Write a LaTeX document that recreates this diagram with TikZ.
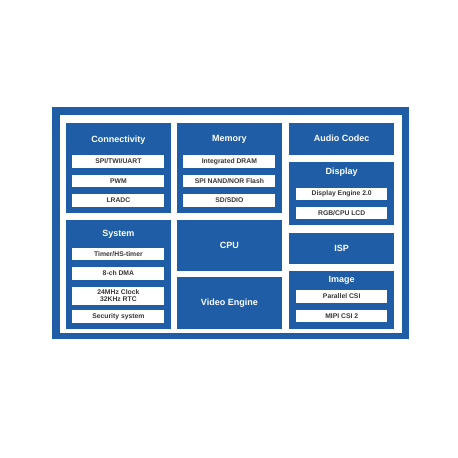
\documentclass[tikz,border=0pt]{standalone}
\usepackage{fontspec}
\setmainfont{Liberation Sans}
\usetikzlibrary{positioning}
\definecolor{chipblue}{RGB}{31,94,166}
\definecolor{itemtext}{RGB}{55,55,55}

\begin{document}
\begin{tikzpicture}[
    x=1pt, y=-1pt,
    % Define node styles
    block/.style={rectangle, fill=chipblue, anchor=north west, minimum width=105pt,
                  inner sep=0pt, text=white, font=\bfseries\fontsize{9}{10.5}\selectfont},
    title/.style={text=white, inner sep=0pt, font=\bfseries\fontsize{9}{10.5}\selectfont},
    item/.style={rectangle, fill=white, minimum width=92pt, minimum height=12.7pt,
                 inner sep=0pt, align=center, text=itemtext,
                 font=\bfseries\fontsize{6.8}{7.6}\selectfont},
    node distance=6.4pt
]
    \useasboundingbox (0,0) rectangle (458,458);

    % Outer frame
    \fill[chipblue] (52,107) rectangle (409,339);
    \fill[white] (60,115) rectangle (401.5,333);

    % Left column
    \node[block, minimum height=89.6pt] (conn) at (65.7,122.7) {};
    \node[title] (conntitle) at ([yshift=-17.3pt]conn.north) {Connectivity};
    \node[item, below=32.3pt of conn.north] (spi) {SPI/TWI/UART};
    \node[item, below=of spi] (pwm) {PWM};
    \node[item, below=of pwm] (lradc) {LRADC};

    \node[block, minimum height=109pt] (sys) at (65.7,219.3) {};
    \node[title] (systitle) at ([yshift=-14.7pt]sys.north) {System};
    \node[item, below=28pt of sys.north] (timer) {Timer/HS-timer};
    \node[item, below=of timer] (dma) {8-ch DMA};
    \node[item, below=of dma, minimum height=18pt] (clock) {24MHz Clock\\32KHz RTC};
    \node[item, below=5pt of clock] (security) {Security system};

    % Middle column
    \node[block, minimum height=89.6pt] (mem) at (176.7,122.7) {};
    \node[title] (memtitle) at ([yshift=-16.5pt]mem.north) {Memory};
    \node[item, below=32.3pt of mem.north] (dram) {Integrated DRAM};
    \node[item, below=of dram] (flash) {SPI NAND/NOR Flash};
    \node[item, below=of flash] (sdio) {SD/SDIO};

    \node[block, minimum height=51.4pt] (cpu) at (176.7,219.3) {CPU};
    \node[block, minimum height=51.6pt] (video) at (176.7,276.7) {Video Engine};

    % Right column
    \node[block, minimum height=31.6pt] (audio) at (289,122.7) {Audio Codec};

    \node[block, minimum height=63.3pt] (disp) at (289,161.7) {};
    \node[title] (disptitle) at ([yshift=-10pt]disp.north) {Display};
    \node[item, minimum width=91pt, below=25.6pt of disp.north] (engine) {Display Engine 2.0};
    \node[item, minimum width=91pt, below=6pt of engine] (lcd) {RGB/CPU LCD};

    \node[block, minimum height=31.7pt] (isp) at (289,232.3) {ISP};

    \node[block, minimum height=57.6pt] (img) at (289,270.7) {};
    \node[title] (imgtitle) at ([yshift=-10pt]img.north) {Image};
    \node[item, minimum width=91pt, minimum height=13pt, below=18.6pt of img.north] (pcsi) {Parallel CSI};
    \node[item, minimum width=91pt, below=6.7pt of pcsi] (mipi) {MIPI CSI 2};
\end{tikzpicture}
\end{document}
